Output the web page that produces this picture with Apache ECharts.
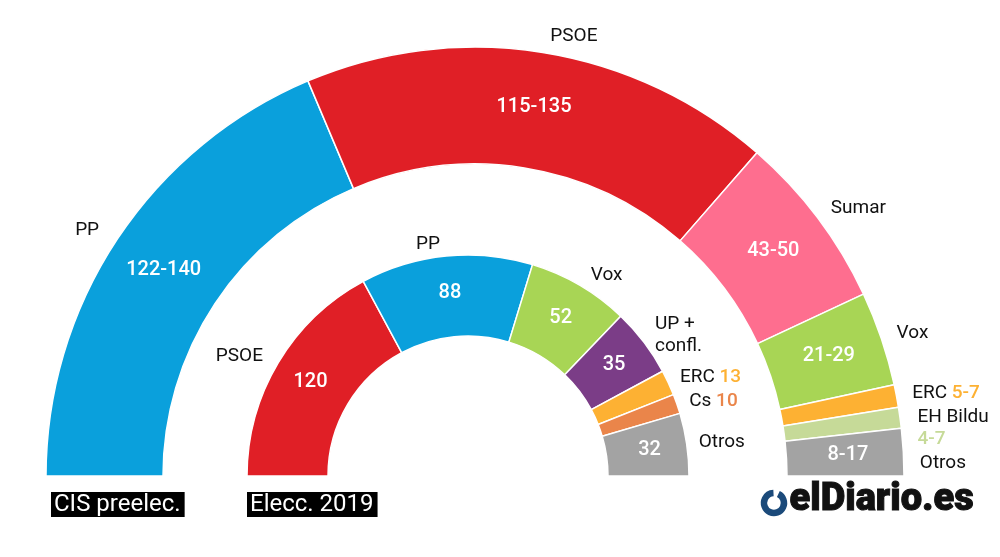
<!DOCTYPE html>
<html>
<head>
<meta charset="utf-8">
<script src="https://cdn.jsdelivr.net/npm/echarts@6/dist/echarts.min.js"></script>
<style>
  html, body { margin: 0; padding: 0; background: #fff; }
  #chart { width: 1000px; height: 557px; }
</style>
</head>
<body>
<div id="chart"></div>
<script>
// CIS preelectoral (outer ring): seat ranges
var cisParties = ['PP', 'PSOE', 'Sumar', 'Vox', 'ERC', 'EH Bildu', 'Otros'];
var cisLow = [122, 115, 43, 21, 5, 4, 8];
var cisHigh = [140, 135, 50, 29, 7, 7, 17];
var cisColors = ['#0aa0dc', '#e01f26', '#fe6e8f', '#a8d555', '#fdb133', '#c6da98', '#a3a3a3'];
var cisValueOutside = [false, false, false, false, true, true, false];

// Elecciones 2019 (inner ring)
var e19Parties = ['PSOE', 'PP', 'Vox', 'UP +\nconfl.', 'ERC', 'Cs', 'Otros'];
var e19Seats = [120, 88, 52, 35, 13, 10, 32];
var e19Colors = ['#e01f26', '#0aa0dc', '#a8d555', '#7b3d87', '#fdb133', '#ea854a', '#a3a3a3'];
var e19ValueOutside = [false, false, false, false, true, true, false];

var FONT = 'Roboto';

function ringData(names, values, texts, colors, outside, inner) {
  return names.map(function (n, i) {
    var item = { name: n, value: values[i], itemStyle: { color: colors[i] } };
    if (inner) {
      item.label = { show: !outside[i], formatter: texts[i] };
    } else {
      var txt = n;
      if (outside[i]) {
        txt = n + (n.indexOf(' ') > 0 ? '\n' : ' ') + '{v|' + texts[i] + '}';
      }
      item.label = {
        formatter: txt,
        rich: { v: { color: colors[i], fontSize: 19, fontFamily: FONT, fontWeight: 500 } }
      };
    }
    return item;
  });
}

var cisMid = cisLow.map(function (v, i) { return (v + cisHigh[i]) / 2; });
var cisText = cisLow.map(function (v, i) { return v + '-' + cisHigh[i]; });
var e19Text = e19Seats.map(String);

var baseRing = {
  type: 'pie',
  startAngle: 180,
  endAngle: 360,
  clockwise: true,
  silent: true,
  animation: false,
  emphasis: { disabled: true }
};

function valueSeries(center, radius, data) {
  return Object.assign({}, baseRing, {
    center: center,
    radius: radius,
    itemStyle: { borderColor: '#fff', borderWidth: 1.5 },
    label: {
      position: 'inside',
      color: '#fff',
      fontSize: 20,
      fontWeight: 500,
      fontFamily: FONT
    },
    labelLine: { show: false },
    data: data
  });
}

function nameSeries(center, radius, data, len) {
  return Object.assign({}, baseRing, {
    center: center,
    radius: radius,
    itemStyle: { color: 'rgba(0,0,0,0)', borderWidth: 0 },
    label: {
      position: 'outside',
      color: '#111',
      fontSize: 19,
      fontFamily: FONT,
      lineHeight: 22
    },
    labelLine: { show: false, length: len, length2: 0 },
    data: data.map(function (d) {
      return Object.assign({}, d, { itemStyle: { color: 'rgba(0,0,0,0)' } });
    })
  });
}

var outerC = [475, 476], outerR = [312, 429];
var innerC = [468, 476], innerR = [140, 221];

var chart = echarts.init(document.getElementById('chart'));
chart.setOption({
  backgroundColor: '#fff',
  series: [
    valueSeries(outerC, outerR, ringData(cisParties, cisMid, cisText, cisColors, cisValueOutside, true)),
    nameSeries(outerC, outerR, ringData(cisParties, cisMid, cisText, cisColors, cisValueOutside, false), 16),
    valueSeries(innerC, innerR, ringData(e19Parties, e19Seats, e19Text, e19Colors, e19ValueOutside, true)),
    nameSeries(innerC, innerR, ringData(e19Parties, e19Seats, e19Text, e19Colors, e19ValueOutside, false), 12)
  ],
  graphic: [
    {
      type: 'text', left: 51, top: 492,
      style: {
        text: 'CIS preelec.', fill: '#fff', font: '24px Roboto',
        backgroundColor: '#000', padding: [0, 4, 0, 3], lineHeight: 25
      }
    },
    {
      type: 'text', left: 247, top: 492,
      style: {
        text: 'Elecc. 2019', fill: '#fff', font: '24px Roboto',
        backgroundColor: '#000', padding: [0, 4, 0, 3], lineHeight: 25
      }
    },
    {
      type: 'arc',
      shape: { cx: 774, cy: 503, r: 10, startAngle: -Math.PI / 2 + 0.45, endAngle: -Math.PI / 2 - 0.05 + Math.PI * 2 },
      style: { stroke: '#1b4a7a', lineWidth: 6.5, fill: null }
    },
    {
      type: 'text', left: 789, top: 481,
      style: { text: 'elDiario.es', fill: '#111', font: '900 38px Roboto', stroke: '#111', lineWidth: 1 }
    }
  ]
});
</script>
</body>
</html>
